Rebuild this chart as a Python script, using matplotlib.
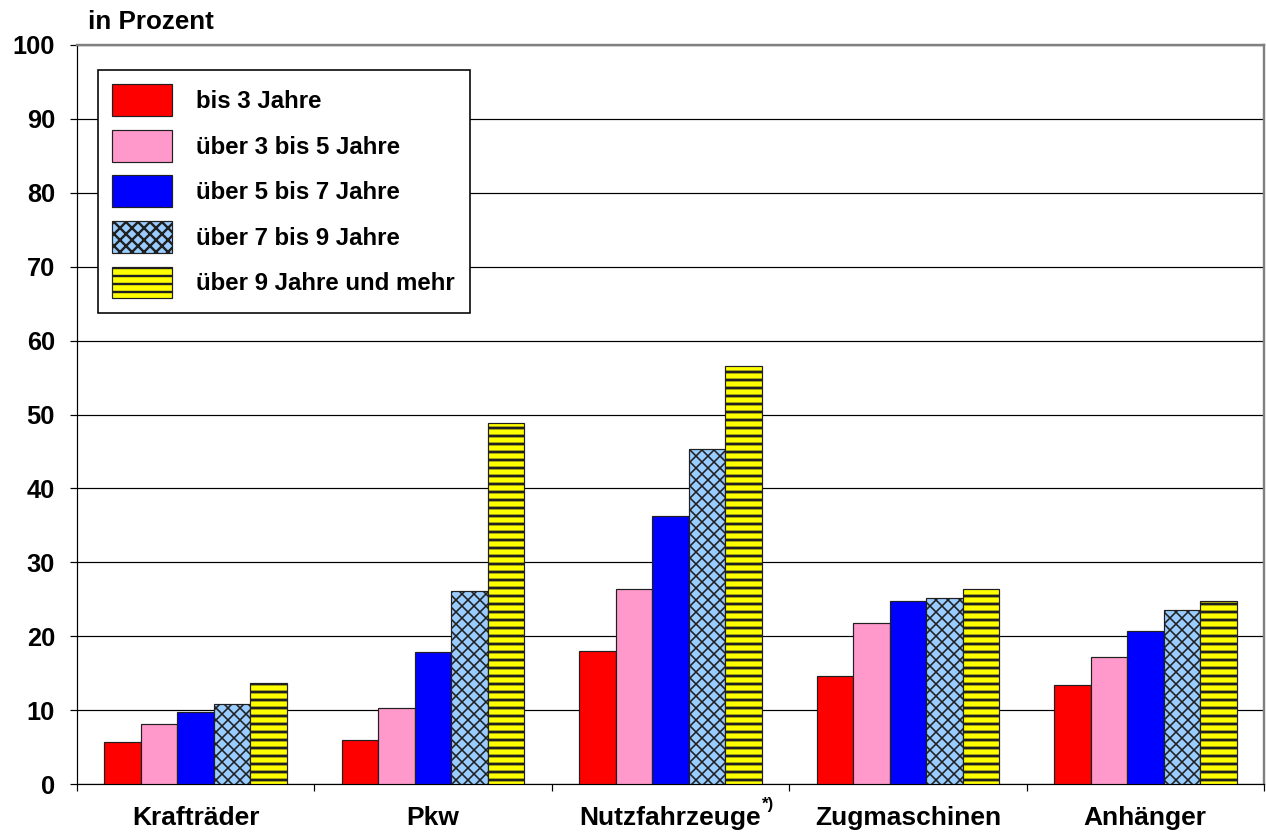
import numpy as np
import matplotlib
matplotlib.use("Agg")
import matplotlib.pyplot as plt

plt.rcParams['font.family'] = ['Liberation Sans', 'DejaVu Sans']
plt.rcParams['font.weight'] = 'bold'
plt.rcParams['hatch.linewidth'] = 1.2

categories = ['Krafträder', 'Pkw', 'Nutzfahrzeuge', 'Zugmaschinen', 'Anhänger']
series_names = ['bis 3 Jahre', 'über 3 bis 5 Jahre', 'über 5 bis 7 Jahre',
                'über 7 bis 9 Jahre', 'über 9 Jahre und mehr']
bis3 = [5.7, 5.9, 18.0, 14.6, 13.4]
bis5 = [8.1, 10.3, 26.4, 21.8, 17.2]
bis7 = [9.8, 17.9, 36.3, 24.8, 20.7]
bis9 = [10.8, 26.1, 45.3, 25.2, 23.5]
ueber9 = [13.7, 48.9, 56.6, 26.4, 24.8]
yticks = np.arange(0, 101, 10)

colors = ['#FF0000', '#FF99CC', '#0000FF', '#99CCFF', '#FFFF00']
hatches = [None, None, None, 'xxxx', '---']
hatch_lw = [None, None, None, 0.8, 1.4]

fig = plt.figure(figsize=(1266 / 144, 832 / 144), dpi=144)
ax = fig.add_axes([77 / 1266, 48 / 832, 1187 / 1266, 739 / 832])

x = np.arange(len(categories))
w = 1 / 6.5
data = [bis3, bis5, bis7, bis9, ueber9]
for i, vals in enumerate(data):
    bars = ax.bar(x + (i - 2) * w, vals, width=w, color=colors[i],
                  edgecolor='#202020', linewidth=0.6, hatch=hatches[i],
                  label=series_names[i], zorder=3)
    if hatch_lw[i] is not None:
        for b in bars:
            if hasattr(b, 'set_hatch_linewidth'):
                b.set_hatch_linewidth(hatch_lw[i])

ax.set_xlim(-0.5, len(categories) - 0.5)
ax.set_ylim(0, 100)
ax.set_yticks(yticks)
ax.set_yticklabels([str(v) for v in yticks], fontsize=12.7, fontweight='bold')
ax.yaxis.grid(True, color='black', linewidth=0.6, zorder=0)
ax.set_axisbelow(True)
ax.tick_params(axis='y', length=3.5, width=0.6, pad=7.5)

ax.set_xticks(x)
ax.set_xticklabels(categories, fontsize=13.2, fontweight='bold')
ax.tick_params(axis='x', which='major', length=0, pad=11)
ax.set_xticks(np.arange(-0.5, len(categories)), minor=True)
ax.tick_params(axis='x', which='minor', length=3.5, width=0.6)

for s in ['top', 'right']:
    ax.spines[s].set_color('#808080')
    ax.spines[s].set_linewidth(1.2)
for s in ['left', 'bottom']:
    ax.spines[s].set_color('black')
    ax.spines[s].set_linewidth(0.6)

ax.text(2.385, -1.7, '*)', fontsize=8.5, fontweight='bold', ha='left', va='top')
fig.text(88 / 1266, 1 - 22 / 832, 'in Prozent', fontsize=13, fontweight='bold',
         ha='left', va='center')

leg = ax.legend(loc='upper left', bbox_to_anchor=(21 / 1187, 1 - 25 / 739),
                borderaxespad=0, fancybox=False, framealpha=1, edgecolor='black',
                prop={'size': 12, 'weight': 'bold'}, handlelength=2.5,
                handleheight=1.65, labelspacing=0.58, handletextpad=1.0,
                borderpad=0.6)
leg.get_frame().set_linewidth(0.8)

fig.savefig('out.png', dpi=144)
